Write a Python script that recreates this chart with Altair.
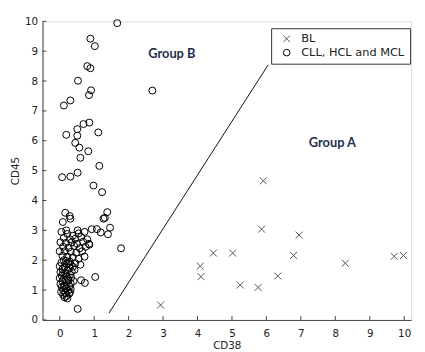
import altair as alt
import pandas as pd

# BL (x markers)
bl_x = [5.91, 5.86, 6.95, 4.46, 5.02, 6.79, 4.08, 4.10, 6.33, 8.29, 5.24, 5.76, 9.71, 9.98, 2.93]
bl_y = [4.66, 3.04, 2.84, 2.24, 2.24, 2.16, 1.80, 1.45, 1.47, 1.90, 1.17, 1.09, 2.13, 2.16, 0.50]

# CLL, HCL and MCL (circles)
cll_pts = [
    (1.67, 9.94), (0.89, 9.42), (1.02, 9.17), (0.80, 8.50), (0.89, 8.43), (0.53, 8.01),
    (0.91, 7.69), (0.85, 7.53), (0.31, 7.35), (0.12, 7.18), (2.69, 7.68),
    (0.86, 6.61), (0.69, 6.56), (0.51, 6.39), (0.19, 6.20), (0.51, 6.17), (1.12, 6.28),
    (0.45, 5.93), (0.57, 5.77), (0.83, 5.65), (0.60, 5.43), (1.15, 5.16), (0.07, 4.78),
    (0.31, 4.80), (0.52, 4.93), (0.98, 4.50), (1.23, 4.28), (0.16, 3.59), (0.29, 3.48),
    (1.38, 3.61), (1.31, 3.42), (1.27, 3.39), (1.46, 3.09), (1.40, 2.87), (1.19, 2.93),
    (1.08, 3.04), (0.93, 3.04), (1.78, 2.40), (1.03, 1.44), (0.62, 1.33), (0.73, 1.24),
    (0.52, 0.37), (0.43, 1.68), (0.09, 3.28), (0.31, 3.39), (0.19, 3.00), (0.52, 3.00),
    (0.86, 2.52),
    # dense cluster, upper part
    (0.05, 2.95), (0.22, 2.88), (0.38, 2.82), (0.55, 2.90), (0.72, 2.95), (0.12, 2.75),
    (0.30, 2.70), (0.45, 2.72), (0.62, 2.78), (0.80, 2.70), (0.02, 2.60), (0.18, 2.58),
    (0.35, 2.60), (0.50, 2.55), (0.68, 2.62), (0.85, 2.55), (0.10, 2.45), (0.26, 2.42),
    (0.42, 2.48), (0.58, 2.40), (0.75, 2.45), (0.00, 2.30), (0.15, 2.30), (0.32, 2.28),
    (0.48, 2.25), (0.65, 2.30), (0.08, 2.15), (0.22, 2.12), (0.38, 2.10), (0.55, 2.05),
    (0.72, 2.12), (0.30, 1.95), (0.45, 1.90), (0.12, 2.00), (0.60, 1.85),
    # dense cluster, column
    (0.05, 1.92), (0.20, 1.88), (0.32, 1.85), (0.00, 1.80), (0.14, 1.78), (0.28, 1.75),
    (0.08, 1.70), (0.22, 1.66), (0.35, 1.62), (0.02, 1.60), (0.16, 1.56), (0.30, 1.52),
    (0.06, 1.48), (0.20, 1.45), (0.33, 1.42), (0.00, 1.40), (0.12, 1.36), (0.26, 1.33),
    (0.08, 1.30), (0.20, 1.26), (0.32, 1.22), (0.02, 1.20), (0.15, 1.16), (0.28, 1.13),
    (0.06, 1.10), (0.20, 1.06), (0.32, 1.03), (0.10, 1.00), (0.24, 0.97), (0.04, 0.94),
    (0.16, 0.90), (0.28, 0.88), (0.10, 0.84), (0.20, 0.80), (0.14, 0.76), (0.25, 1.90),
    (0.10, 1.55), (0.24, 1.38), (0.12, 1.12), (0.30, 0.93), (0.18, 1.98), (0.38, 1.78),
    (0.40, 1.30), (0.22, 0.72),
]

groups = ["BL", "CLL, HCL and MCL"]

# dividing line
line_x = [1.43, 6.05]
line_y = [0.23, 8.54]

# annotations
ann_text = ["Group B", "Group A"]
ann_x = [2.57, 7.23]
ann_y = [8.91, 5.94]

x_ticks = list(range(0, 11))
y_ticks = list(range(0, 11))

pts = pd.DataFrame(
    {"CD38": bl_x, "CD45": bl_y, "group": [groups[0]] * len(bl_x)}
)
pts = pd.concat([
    pts,
    pd.DataFrame({"CD38": [p[0] for p in cll_pts], "CD45": [p[1] for p in cll_pts],
                  "group": [groups[1]] * len(cll_pts)})
], ignore_index=True)

W, H = 374, 303
xs = alt.Scale(domain=[-0.5, 10.2], nice=False, zero=False)
ys = alt.Scale(domain=[0, 10], nice=False, zero=False)

FONT = "DejaVu Sans"
axis_common = dict(ticks=False, grid=False, domainColor="#444444", labelColor="#222222",
                   labelFont=FONT, labelFontSize=10.5, titleFont=FONT,
                   titleFontSize=10.5, titleFontWeight="normal", titleColor="#222222",
                   labelOverlap=False)
ax_x = alt.Axis(values=x_ticks, labelPadding=9, titlePadding=1, **axis_common)
ax_y = alt.Axis(values=y_ticks, labelPadding=5, titlePadding=4, **axis_common)


def X(field):
    return alt.X(field, type="quantitative", scale=xs, title="CD38", axis=ax_x)


def Y(field):
    return alt.Y(field, type="quantitative", scale=ys, title="CD45", axis=ax_y)


legend = alt.Legend(title=None, orient="none", legendX=232, legendY=7,
                    strokeColor="#333333", fillColor="white", padding=5,
                    symbolOffset=5, labelOffset=9, rowPadding=1,
                    labelFont=FONT, labelFontSize=11.5,
                    labelColor="#222222", symbolSize=45, symbolStrokeWidth=1,
                    cornerRadius=0)

points = alt.Chart(pts).mark_point(filled=False, strokeWidth=1, size=50, opacity=1).encode(
    x=X("CD38"),
    y=Y("CD45"),
    shape=alt.Shape("group:N", scale=alt.Scale(domain=groups, range=["M-1,-1L1,1M1,-1L-1,1", "circle"]),
                    legend=legend),
    color=alt.Color("group:N", scale=alt.Scale(domain=groups, range=["#555555", "#000000"]),
                    legend=legend),
)

line = alt.Chart(pd.DataFrame({"x": line_x, "y": line_y})).mark_line(color="#111111", strokeWidth=1).encode(
    x=X("x"), y=Y("y")
)

ann = alt.Chart(pd.DataFrame({"t": ann_text, "x": ann_x, "y": ann_y})).mark_text(
    align="left", baseline="middle", font="Lato", fontSize=13, fontWeight="bold", color="#1f2f4f"
).encode(x=X("x"), y=Y("y"), text="t:N")

xtick = alt.Chart(pd.DataFrame({"v": x_ticks})).mark_rule(color="#444444", strokeWidth=1).encode(
    x=X("v"), y=alt.value(H), y2=alt.value(H - 4)
)
ytick = alt.Chart(pd.DataFrame({"v": y_ticks})).mark_rule(color="#444444", strokeWidth=1).encode(
    y=Y("v"), x=alt.value(0), x2=alt.value(4)
)

chart = alt.layer(points, line, xtick, ytick, ann).properties(
    width=W, height=H, autosize="none",
    padding={"left": 35, "top": 11, "right": 6, "bottom": 30},
).configure_view(stroke=None).configure(background="white")

chart.save("out.html", embed_options={"renderer": "svg", "actions": False})
